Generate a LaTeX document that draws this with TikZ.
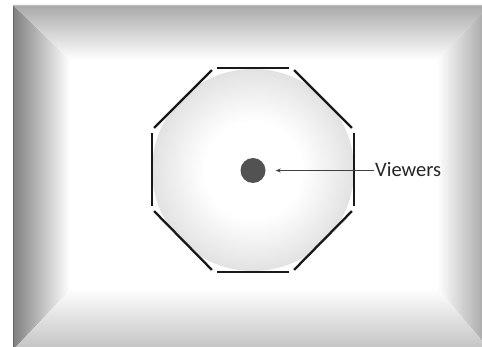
\documentclass[tikz,border=0pt]{standalone}
\usepackage{fontspec}
\setmainfont{Carlito}
\usetikzlibrary{arrows.meta}
\pgfdeclareradialshading{discshade}{\pgfpoint{0bp}{0bp}}{color(0bp)=(white); color(12bp)=(white); color(28bp)=(black!14); color(40bp)=(black!32); color(50bp)=(black!45)}
\tikzset{
  wall/.style={line width=2.3pt, black!90, shorten <=3pt, shorten >=3pt},
  bevelL/.style={left color=black!50, right color=white},
  bevelT/.style={top color=black!34, bottom color=white},
  bevelR/.style={left color=white, right color=black!38},
  bevelB/.style={top color=white, bottom color=black!24},
  pointer/.style={draw=black!75, line width=1.1pt, -{Stealth[length=5pt,width=4pt]}},
  label/.style={font=\fontsize{20.5}{24}\selectfont, text=black!85, inner sep=1pt, anchor=west}
}
\begin{document}
\begin{tikzpicture}[x=1pt,y=-1pt]
\useasboundingbox (0,0) rectangle (482,347);
\fill[white] (0,0) rectangle (482,347);
\begin{scope}
\clip (0,0) rectangle (482,347);
% bevelled frame
\shade[bevelL] (13,5) -- (70,60) -- (70,290) -- (13,350) -- cycle;
\shade[bevelT] (13,5) -- (490,5) -- (437,60) -- (70,60) -- cycle;
\shade[bevelR] (437,60) -- (490,5) -- (490,350) -- (437,288) -- cycle;
\shade[bevelB] (70,290) -- (437,288) -- (490,350) -- (13,350) -- cycle;
\draw[black!60, line width=1pt] (13.5,5) -- (13.5,347);
\draw[black!25, line width=0.6pt] (13,5.3) -- (482,5.3);
\end{scope}
% shaded floor disc
\shade[shading=discshade] (253,170) circle [radius=101];
% octagon vertices
\coordinate (v1) at (214,68);
\coordinate (v2) at (292,68);
\coordinate (v3) at (354,130);
\coordinate (v4) at (354,209);
\coordinate (v5) at (292,272);
\coordinate (v6) at (214,272);
\coordinate (v7) at (152,209);
\coordinate (v8) at (152,130);
\draw[wall] (v1) -- (v2);
\draw[wall] (v2) -- (v3);
\draw[wall] (v3) -- (v4);
\draw[wall] (v4) -- (v5);
\draw[wall] (v5) -- (v6);
\draw[wall] (v6) -- (v7);
\draw[wall] (v7) -- (v8);
\draw[wall] (v8) -- (v1);
% viewers
\node[circle, fill=black!68, minimum size=25pt, inner sep=0pt] (dot) at (253,170.5) {};
\node[label] (lbl) at (374,170) {Viewers};
\draw[pointer, shorten >=10pt] (lbl.west |- dot.east) -- (dot.east);
\end{tikzpicture}
\end{document}
